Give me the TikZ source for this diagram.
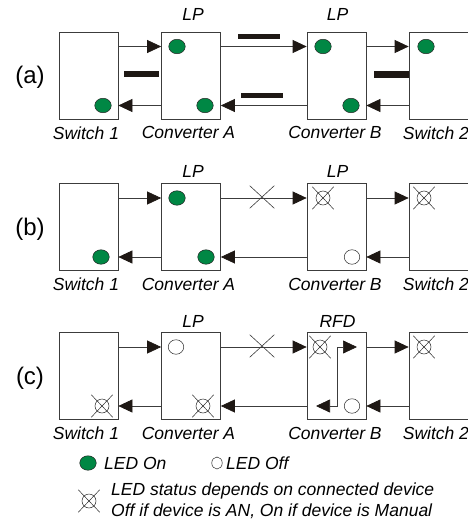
\documentclass[tikz,border=0pt]{standalone}
\usepackage{fontspec}
\setmainfont{Liberation Sans}
\usepackage{tikz}
\usetikzlibrary{shapes.geometric, shapes.misc, arrows.meta, positioning}
\definecolor{ledgreen}{RGB}{0,135,68}
\definecolor{barblack}{RGB}{30,24,20}
\definecolor{boxgray}{RGB}{60,60,60}
\tikzset{
  unitbox/.style={rectangle, draw=boxgray, line width=0.7pt,
                  minimum width=59pt, minimum height=87pt, inner sep=0pt},
  wideBox/.style={unitbox, minimum width=80pt},
  link/.style={draw=boxgray, line width=0.7pt,
               -{Triangle[length=14pt, width=13pt, color=barblack]}},
  ledOn/.style={ellipse, draw=black!85, fill=ledgreen, line width=0.5pt,
                minimum width=16.5pt, minimum height=14.5pt, inner sep=0pt},
  ledOff/.style={ellipse, draw=black!85, fill=white, line width=0.5pt,
                 minimum width=15.5pt, minimum height=14.5pt, inner sep=0pt},
  ledRing/.style={circle, draw=black!85, line width=0.5pt,
                  minimum size=14pt, inner sep=0pt},
  ledX/.style={cross out, draw=black!85, line width=0.5pt,
               minimum width=21pt, minimum height=22pt, inner sep=0pt},
  brk/.style={cross out, draw=boxgray, line width=0.6pt,
              minimum width=24pt, minimum height=22pt, inner sep=0pt},
  bar/.style={rectangle, fill=barblack, inner sep=0pt, minimum width=42pt,
              minimum height=5pt},
  sideBar/.style={bar, minimum width=35pt, minimum height=6.7pt},
  lbl/.style={font=\fontsize{17.5}{20}\selectfont\itshape, inner sep=0pt},
  rowLbl/.style={font=\fontsize{24}{28}\selectfont, inner sep=0pt},
}
% LED whose state follows the connected device
\newcommand\ledDep[2]{%
  \node[ledX] (#1x) at (#2) {};
  \node[ledRing] (#1) at (#2) {};
}

\begin{document}
\begin{tikzpicture}[x=1pt, y=-1pt]
  \useasboundingbox (0,0) rectangle (468,522);
  \clip (0,0) rectangle (468,522);

  % boxes, names and links, one row per case
  \foreach \r/\yc in {a/75.5, b/227, c/376}{
    \node[unitbox] (sw1\r) at (88.5,\yc) {};
    \node[unitbox] (cva\r) at (191,\yc) {};
    \node[unitbox] (cvb\r) at (336.5,\yc) {};
    \node[wideBox] (sw2\r) at (449,\yc) {};
    \node[lbl, below=7pt of sw1\r, xshift=-2.5pt] (sw1\r lbl) {Switch 1};
    \node[lbl, below=7pt of cva\r, xshift=-2.5pt] (cva\r lbl) {Converter A};
    \node[lbl, below=7pt of cvb\r, xshift=-1.5pt] (cvb\r lbl) {Converter B};
    \node[lbl, below=7pt of sw2\r.south west, anchor=north west, xshift=-6pt]
      (sw2\r lbl) {Switch 2};
    \node[rowLbl] (row\r) at (30,\yc+2) {(\r)};
    \draw[link] ([yshift=29pt]sw1\r.east) -- ([yshift=29pt]cva\r.west);
    \draw[link] ([yshift=29pt]cva\r.east) -- ([yshift=29pt]cvb\r.west);
    \draw[link] ([yshift=29pt]cvb\r.east) -- ([yshift=29pt]sw2\r.west);
    \draw[link] ([yshift=-30pt]sw2\r.west) -- ([yshift=-30pt]cvb\r.east);
    \draw[link] ([yshift=-30pt]cvb\r.west) -- ([yshift=-30pt]cva\r.east);
    \draw[link] ([yshift=-30pt]cva\r.west) -- ([yshift=-30pt]sw1\r.east);
  }

  % mode labels
  \node[lbl, above=11pt of cvaa, xshift=2pt] (lpAa) {LP};
  \node[lbl, above=11pt of cvba, xshift=1pt] (lpBa) {LP};
  \node[lbl, above=5pt of cvab, xshift=2pt] (lpAb) {LP};
  \node[lbl, above=5pt of cvbb, xshift=1pt] (lpBb) {LP};
  \node[lbl, above=4pt of cvac, xshift=2pt] (lpAc) {LP};
  \node[lbl, above=4pt of cvbc, xshift=1pt] (rfdBc) {RFD};

  % (a) all LEDs on, fibre links
  \node[sideBar] (barSA) at (141.5,74) {};
  \node[bar] (barAB) at (259,36.2) {};
  \node[bar] (barBA) at (262,95.5) {};
  \node[sideBar] (barBS) at (391.5,74.3) {};
  \node[ledOn] (ledS1a) at (103,105.5) {};
  \node[ledOn] (ledA1a) at (177,46.5) {};
  \node[ledOn] (ledA2a) at (205,105.5) {};
  \node[ledOn] (ledB1a) at (323,46.5) {};
  \node[ledOn] (ledB2a) at (351,105.5) {};
  \node[ledOn] (ledS2a) at (426,46.5) {};

  % (b) fibre A to B broken
  \node[brk] (brkb) at (262,197) {};
  \node[ledOn] (ledS1b) at (101,257) {};
  \node[ledOn] (ledA1b) at (177,198) {};
  \node[ledOn] (ledA2b) at (206,257) {};
  \ledDep{ledB1b}{323,198}
  \node[ledOff] (ledB2b) at (352,257) {};
  \ledDep{ledS2b}{424,198}

  % (c) converter B loops back
  \node[brk] (brkc) at (262,346) {};
  \ledDep{ledS1c}{102,406}
  \node[ledOff] (ledA1c) at (176,347) {};
  \ledDep{ledA2c}{203,406}
  \ledDep{ledB1c}{320,347}
  \node[ledOff] (ledB2c) at (352,406) {};
  \ledDep{ledS2c}{424,347}
  \coordinate (loopTop) at (337,347);
  \coordinate (loopBot) at (337,406);
  \coordinate (loopOut) at (357,347);
  \coordinate (loopIn) at (316,406);
  \draw[link] (loopTop) -- (loopOut);
  \draw[link] (loopTop) -- (loopBot) -- (loopIn);

  % legend
  \node[ledOn] (keyOn) at (88,463) {};
  \node[lbl, anchor=west] (keyOnTxt) at (104,463) {LED On};
  \node[ledOff, minimum width=10.5pt, minimum height=12pt] (keyOff) at (217,463) {};
  \node[lbl, anchor=west] (keyOffTxt) at (226,463) {LED Off};
  \ledDep{keyDep}{89,501}
  \node[lbl, anchor=west] (keyDepTxt1) at (111,491) {LED status depends on connected device};
  \node[lbl, anchor=west] (keyDepTxt2) at (111,511) {Off if device is AN, On if device is Manual};
\end{tikzpicture}
\end{document}
